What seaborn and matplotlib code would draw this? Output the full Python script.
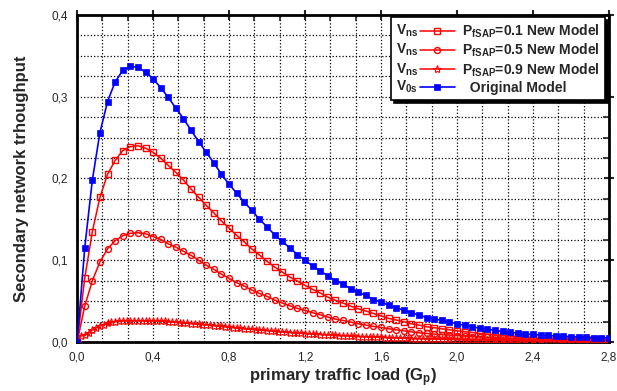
import numpy as np
import pandas as pd
import matplotlib
matplotlib.use("Agg")
import matplotlib.pyplot as plt
import seaborn as sns
from matplotlib.ticker import MultipleLocator, FuncFormatter
from matplotlib.legend_handler import HandlerLine2D
from matplotlib.text import Text

# primary traffic load grid (0.04 step for three series, 0.02 step for P=0.9)
load_coarse = np.round(np.arange(71) * 0.04, 2)
load_fine = np.round(np.arange(141) * 0.02, 2)

original = [
    0, 0.115, 0.198, 0.256, 0.294, 0.318, 0.332, 0.337, 0.336, 0.330,
    0.322, 0.311, 0.299, 0.286, 0.273, 0.259, 0.245, 0.232, 0.219, 0.205,
    0.193, 0.182, 0.171, 0.161, 0.150, 0.141, 0.131, 0.123, 0.115, 0.107,
    0.100, 0.093, 0.087, 0.081, 0.075, 0.071, 0.065, 0.061, 0.057, 0.052,
    0.049, 0.045, 0.042, 0.039, 0.036, 0.033, 0.030, 0.0285, 0.0265, 0.0245,
    0.0224, 0.0204, 0.0187, 0.0170, 0.0159, 0.0143, 0.0130, 0.0118, 0.0110, 0.0100,
    0.0094, 0.0086, 0.0082, 0.0076, 0.0072, 0.0067, 0.0063, 0.0059, 0.0056, 0.0053,
    0.0050,
]
p_01 = [
    0, 0.078, 0.135, 0.177, 0.205, 0.222, 0.234, 0.239, 0.240, 0.237,
    0.232, 0.225, 0.216, 0.2075, 0.198, 0.187, 0.177, 0.167, 0.158, 0.148,
    0.1395, 0.1305, 0.1225, 0.1138, 0.1064, 0.0987, 0.0917, 0.0856, 0.0795, 0.0746,
    0.0693, 0.0645, 0.060, 0.055, 0.051, 0.0477, 0.044, 0.0407, 0.038, 0.035,
    0.032, 0.029, 0.027, 0.0248, 0.0224, 0.0208, 0.0188, 0.0176, 0.0163, 0.0150,
    0.0138, 0.0126, 0.0118, 0.0106, 0.0098, 0.0090, 0.0082, 0.0075, 0.0069, 0.0065,
    0.0058, 0.0053, 0.0049, 0.0046, 0.0044, 0.0041, 0.0039, 0.0037, 0.0035, 0.0033,
    0.0031,
]
p_05 = [
    0, 0.044, 0.075, 0.098, 0.114, 0.124, 0.130, 0.133, 0.1337, 0.1325,
    0.129, 0.1256, 0.120, 0.116, 0.111, 0.106, 0.100, 0.094, 0.089, 0.083,
    0.078, 0.0725, 0.0685, 0.0636, 0.0595, 0.0559, 0.0514, 0.0477, 0.0444, 0.0412,
    0.0388, 0.0359, 0.0334, 0.0306, 0.0281, 0.0265, 0.0245, 0.0224, 0.0208, 0.0192,
    0.018, 0.0163, 0.015, 0.0138, 0.0126, 0.0114, 0.0106, 0.0098, 0.0092, 0.0086,
    0.0080, 0.0074, 0.0068, 0.0063, 0.0058, 0.0054, 0.0050, 0.0046, 0.0042, 0.0039,
    0.0036, 0.0033, 0.0030, 0.0028, 0.0026, 0.0024, 0.0022, 0.0020, 0.0019, 0.0017,
    0.0016,
]
p_09 = [
    0, 0.0075, 0.0085, 0.0110, 0.0147, 0.0172, 0.0196, 0.0213, 0.0228, 0.0240,
    0.0249, 0.0255, 0.0259, 0.0261, 0.0261, 0.0260, 0.0259, 0.0259, 0.0260, 0.0260,
    0.0259, 0.0258, 0.0256, 0.0253, 0.0250, 0.0246, 0.0242, 0.0239, 0.0235, 0.0231,
    0.0227, 0.0223, 0.0219, 0.0214, 0.0209, 0.0205, 0.0201, 0.0196, 0.0191, 0.0186,
    0.0182, 0.0177, 0.0172, 0.0167, 0.0163, 0.0159, 0.0155, 0.0151, 0.0147, 0.0143,
    0.0139, 0.0135, 0.0131, 0.0127, 0.0124, 0.0120, 0.0117, 0.0113, 0.0110, 0.0107,
    0.0104, 0.0101, 0.0098, 0.0095, 0.0092, 0.0089, 0.0087, 0.0084, 0.0082, 0.0079,
    0.0077, 0.0075, 0.0072, 0.0070, 0.0068, 0.0066, 0.0064, 0.0062, 0.0060, 0.0058,
    0.0057, 0.0055, 0.0053, 0.0052, 0.0050, 0.0049, 0.0047, 0.0046, 0.0044, 0.0043,
    0.0042, 0.0040, 0.0039, 0.0038, 0.0037, 0.0036, 0.0035, 0.0034, 0.0033, 0.0032,
    0.0031, 0.0030, 0.0029, 0.0028, 0.0028, 0.0027, 0.0026, 0.0025, 0.0025, 0.0024,
    0.0023, 0.0023, 0.0022, 0.0021, 0.0021, 0.0020, 0.0020, 0.0019, 0.0019, 0.0018,
    0.0018, 0.0017, 0.0017, 0.0016, 0.0016, 0.0015, 0.0015, 0.0015, 0.0014, 0.0014,
    0.0013, 0.0013, 0.0013, 0.0012, 0.0012, 0.0012, 0.0011, 0.0011, 0.0011, 0.0010,
    0.0010,
]

labels = [
    r"$\mathbf{P}_{\mathbf{fSAP}}$=0.1 New Model",
    r"$\mathbf{P}_{\mathbf{fSAP}}$=0.5 New Model",
    r"$\mathbf{P}_{\mathbf{fSAP}}$=0.9 New Model",
    "  Original Model",
]
prefixes = [r"$\mathbf{V}_{\mathbf{ns}}$"] * 3 + [r"$\mathbf{V}_{\mathbf{0s}}$"]

coarse = pd.DataFrame({"load": load_coarse, "orig": original, "p01": p_01, "p05": p_05})
fine = pd.DataFrame({"load": load_fine, "p09": p_09})


class PrefixHandler(HandlerLine2D):
    """Line handle with a text prefix drawn in front of it."""

    def __init__(self, prefix, frac=0.4, **kw):
        super().__init__(**kw)
        self.prefix = prefix
        self.frac = frac

    def create_artists(self, legend, orig_handle, xdescent, ydescent,
                       width, height, fontsize, trans):
        shift = width * self.frac
        arts = super().create_artists(legend, orig_handle, xdescent - shift, ydescent,
                                      width - shift, height, fontsize, trans)
        txt = Text(-xdescent, (height - ydescent) / 2, self.prefix,
                   ha="left", va="center", fontsize=fontsize,
                   fontweight="bold", transform=trans)
        return list(arts) + [txt]


sns.set_style("white")
plt.rcParams["font.family"] = ["Liberation Sans", "DejaVu Sans"]
plt.rcParams["mathtext.fontset"] = "custom"
plt.rcParams["mathtext.rm"] = "Liberation Sans"
plt.rcParams["mathtext.bf"] = "Liberation Sans:bold"
plt.rcParams["mathtext.it"] = "Liberation Sans:italic"

fig = plt.figure(figsize=(6.17, 3.91), dpi=100)
ax = fig.add_axes([0.125, 0.125, 0.862, 0.837])

sns.lineplot(data=coarse, x="load", y="p01", ax=ax, color="red", lw=1.1,
             marker="s", ms=3.9, mfc="none", mec="red", mew=1.0, zorder=3)
h1 = ax.lines[-1]
sns.lineplot(data=coarse, x="load", y="p05", ax=ax, color="red", lw=1.1,
             marker="o", ms=4.3, mfc="none", mec="red", mew=1.0, zorder=3)
h2 = ax.lines[-1]
sns.lineplot(data=fine, x="load", y="p09", ax=ax, color="red", lw=1.1,
             marker="*", ms=6, mfc="none", mec="red", mew=0.8, zorder=3)
h3 = ax.lines[-1]
sns.lineplot(data=coarse, x="load", y="orig", ax=ax, color="blue", lw=1.2,
             marker="s", ms=4.5, mfc="blue", mec="blue", mew=0.5, zorder=4)
h4 = ax.lines[-1]

ax.set_xlim(0, 2.8)
ax.set_ylim(0, 0.4)
ax.xaxis.set_major_locator(MultipleLocator(0.4))
ax.xaxis.set_minor_locator(MultipleLocator(0.4 / 3))
ax.yaxis.set_major_locator(MultipleLocator(0.1))
ax.yaxis.set_minor_locator(MultipleLocator(0.025))
fmt = FuncFormatter(lambda v, p: f"{v:.1f}".replace(".", ","))
ax.xaxis.set_major_formatter(fmt)
ax.yaxis.set_major_formatter(fmt)

ax.set_axisbelow(True)
ax.grid(which="both", color="black", linestyle=":", linewidth=0.9)
for s in ax.spines.values():
    s.set_linewidth(2)
    s.set_color("black")
ax.tick_params(which="major", direction="inout", length=7, width=1.5,
               top=True, right=True, labelsize=8.5, pad=3)
ax.tick_params(which="minor", direction="in", length=4, width=1.2,
               top=True, right=True)

ax.set_xlabel(r"primary traffic load (G$_{\mathbf{p}}$)", fontsize=12,
              fontweight="bold", labelpad=2)
ax.set_ylabel("Secondary network trhoughput", fontsize=12,
              fontweight="bold", labelpad=16)

handles = [h1, h2, h3, h4]
leg = ax.legend(handles, labels,
                handler_map={h: PrefixHandler(p) for h, p in zip(handles, prefixes)},
                loc="upper right", bbox_to_anchor=(0.9925, 0.994),
                borderaxespad=0, borderpad=0.4, handlelength=4.2,
                handletextpad=0.5, labelspacing=0.15, fancybox=False,
                framealpha=1, edgecolor="black",
                shadow={"color": "black", "alpha": 1},
                prop={"weight": "bold", "size": 10})
leg.get_frame().set_linewidth(1.2)

fig.savefig("out.png", dpi=100)
